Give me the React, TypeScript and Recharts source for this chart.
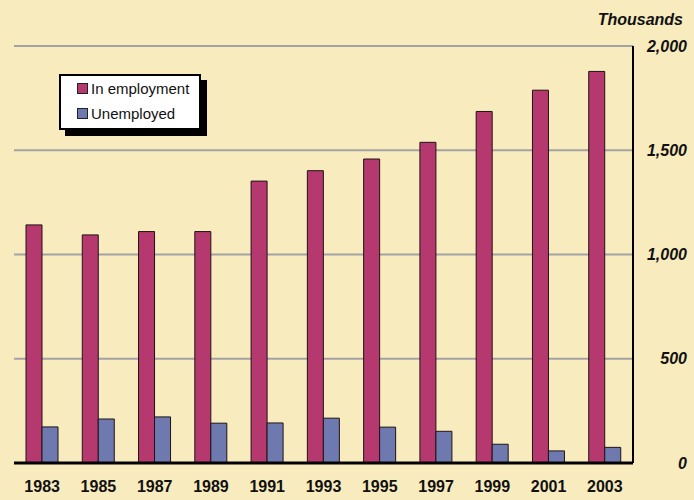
import { BarChart, Bar, XAxis, YAxis, CartesianGrid, Legend } from "recharts";

const YEARS = ["1983", "1985", "1987", "1989", "1991", "1993", "1995", "1997", "1999", "2001", "2003"];
const IN_EMPLOYMENT = [1142, 1094, 1110, 1110, 1352, 1402, 1458, 1538, 1686, 1788, 1878];
const UNEMPLOYED = [173, 211, 221, 191, 192, 215, 172, 152, 90, 58, 75];
const Y_TICKS = [0, 500, 1000, 1500, 2000];

const COLORS = {
  employed: "#b5396f",
  unemployed: "#6e7aaf",
  bg: "#f8ebbe",
  grid: "#a3a3a3",
};

const data = YEARS.map((year, i) => ({
  year,
  employed: IN_EMPLOYMENT[i],
  unemployed: UNEMPLOYED[i],
}));

const fmt = (v: number) => v.toLocaleString("en-US");

// right-hand value labels, right aligned near the page edge
function RightTick(props: any) {
  const { y, payload } = props;
  return (
    <text
      x={687}
      y={y}
      textAnchor="end"
      dominantBaseline="central"
      fontFamily="'Liberation Sans', Arial, sans-serif"
      fontSize={16}
      fontWeight="bold"
      fontStyle="italic"
      fill="#111"
    >
      {fmt(payload.value)}
    </text>
  );
}

function LegendBox({ payload }: any) {
  return (
    <div
      style={{
        width: 138,
        height: 52,
        background: "#fff",
        border: "2px solid #000",
        boxShadow: "6px 6px 0 #000",
        fontFamily: "'Liberation Sans', Arial, sans-serif",
        fontSize: 15,
        color: "#111",
        boxSizing: "content-box",
      }}
    >
      {(payload ?? []).map((p: any) => (
        <div key={p.value} style={{ display: "flex", alignItems: "center", height: 25, paddingLeft: 16 }}>
          <span
            style={{
              display: "inline-block",
              width: 9,
              height: 9,
              background: p.color,
              border: "1px solid #222",
              marginRight: 3,
            }}
          />
          {p.value}
        </div>
      ))}
    </div>
  );
}

export default function App() {
  return (
    <div style={{ position: "relative", width: 694, height: 500, background: COLORS.bg }}>
      <style>{"body{margin:0;overflow:hidden}"}</style>
      <div
        style={{
          position: "absolute",
          right: 9,
          top: 11,
          fontFamily: "'Liberation Sans', Arial, sans-serif",
          fontSize: 16,
          fontWeight: "bold",
          fontStyle: "italic",
          color: "#111",
          paddingRight: 2,
        }}
      >
        Thousands
      </div>
      <BarChart
        width={694}
        height={500}
        data={data}
        margin={{ top: 46, right: 0, bottom: 0, left: 14 }}
        barSize={16}
        barGap={0}
      >
        <CartesianGrid vertical={false} stroke={COLORS.grid} strokeWidth={2} yAxisId="r" />
        <XAxis
          dataKey="year"
          height={37}
          axisLine={{ stroke: "#000", strokeWidth: 3 }}
          tickLine={false}
          interval={0}
          tickMargin={12}
          tick={{
            fill: "#111",
            fontSize: 16,
            fontWeight: "bold",
            fontFamily: "'Liberation Sans', Arial, sans-serif",
          }}
        />
        <YAxis
          yAxisId="l"
          orientation="left"
          width={0}
          domain={[0, 2000]}
          ticks={Y_TICKS}
          tick={false}
          tickLine={false}
          axisLine={{ stroke: COLORS.grid, strokeWidth: 2 }}
        />
        <YAxis
          yAxisId="r"
          orientation="right"
          width={61}
          domain={[0, 2000]}
          ticks={Y_TICKS}
          tickLine={false}
          axisLine={{ stroke: "#000", strokeWidth: 2 }}
          tick={<RightTick />}
        />
        <Legend
          layout="vertical"
          verticalAlign="middle"
          align="center"
          content={<LegendBox />}
          wrapperStyle={{ top: 74, left: 59, width: "auto" }}
        />
        <Bar
          yAxisId="r"
          dataKey="employed"
          name="In employment"
          fill={COLORS.employed}
          stroke="#1e1414"
          strokeWidth={1}
          isAnimationActive={false}
        />
        <Bar
          yAxisId="r"
          dataKey="unemployed"
          name="Unemployed"
          fill={COLORS.unemployed}
          stroke="#1e1414"
          strokeWidth={1}
          isAnimationActive={false}
        />
      </BarChart>
    </div>
  );
}
